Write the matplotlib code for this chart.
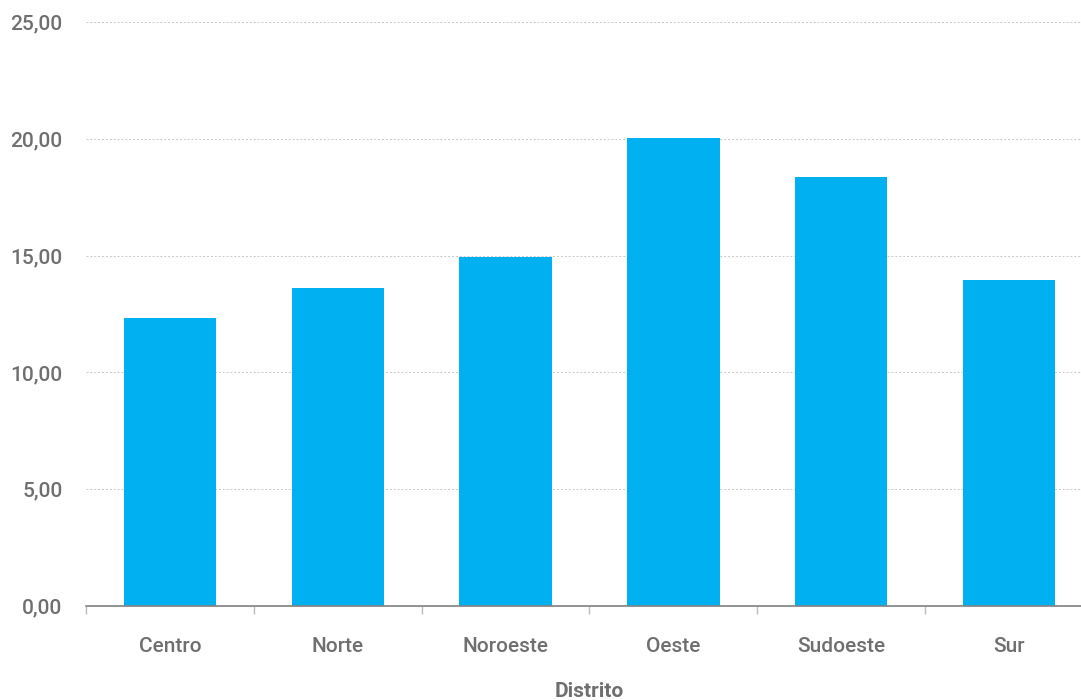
import matplotlib.pyplot as plt
import numpy as np

# data
distritos = ['Centro', 'Norte', 'Noroeste', 'Oeste', 'Sudoeste', 'Sur']
valores = [12.35, 13.62, 14.95, 20.05, 18.36, 13.95]
yticks = [0, 5, 10, 15, 20, 25]

bar_color = '#00B0F0'
text_color = '#6f6f6f'

plt.rcParams['font.family'] = ['Roboto', 'DejaVu Sans']

fig = plt.figure(figsize=(10.81, 7.0), dpi=100)
# plot area runs a little past the right edge, as in the reference
ax = fig.add_axes([86 / 1081, 1 - 606 / 700, (1093 - 86) / 1081, (606 - 22) / 700])

x = np.arange(len(distritos))
ax.bar(x, valores, width=0.55, color=bar_color, zorder=3)

ax.set_xlim(-0.5, len(distritos) - 0.5)
ax.set_ylim(0, 25)
ax.set_yticks(yticks)
ax.set_yticklabels([f'{v:.2f}'.replace('.', ',') for v in yticks],
                   fontsize=15, color=text_color, fontweight='medium')
ax.tick_params(axis='y', length=0, pad=17)

# category labels centred, ticks between categories
ax.set_xticks(x)
ax.set_xticklabels(distritos, fontsize=15, color=text_color, fontweight='medium')
ax.tick_params(axis='x', which='major', length=0, pad=22)
ax.set_xticks(np.arange(-0.5, len(distritos)), minor=True)
ax.tick_params(axis='x', which='minor', length=6, color='#bbbbbb', width=1)

ax.grid(axis='y', color='#c8c8c8', linestyle=(0, (2, 2)), linewidth=0.7, zorder=0)
for side in ['top', 'right', 'left']:
    ax.spines[side].set_visible(False)
ax.spines['bottom'].set_color('#808080')
ax.spines['bottom'].set_linewidth(1.2)
ax.spines['bottom'].set_zorder(4)

ax.set_xlabel('Distrito', fontsize=15, fontweight='bold', color=text_color, labelpad=19)

fig.savefig('out.png', dpi=100)
